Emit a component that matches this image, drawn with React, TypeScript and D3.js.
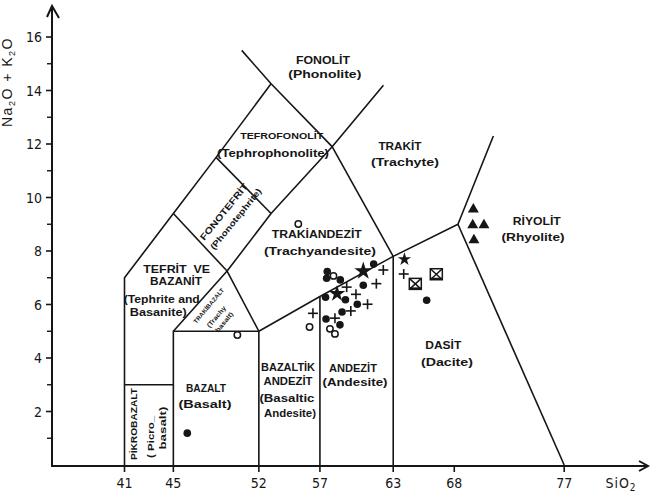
import React from 'react';
import * as d3 from 'd3';

// ---- axis ticks ----
const xTicks = [41, 45, 52, 57, 63, 68, 77];
const yTicks = [2, 4, 6, 8, 10, 12, 14, 16];
const yMinorTicks = [1, 3, 5, 7, 9, 11, 13, 15];

// ---- field boundaries (SiO2, Na2O+K2O) ----
const leftEnvelope: [number, number][] = [[41, 0], [41, 7], [45, 9.4], [48.5, 11.5], [53, 14.25]];
const phonoliteLine: [number, number][] = [[50.6, 15.5], [53, 14.25], [58, 11.9], [63, 7.8]];
const trachyteLine: [number, number][] = [[49.4, 7.25], [53, 9.4], [58, 11.9], [62.2, 14.2]];
const phonotephriteLow: [number, number][] = [[45, 9.4], [49.4, 7.25]];
const phonotephriteHigh: [number, number][] = [[48.5, 11.5], [53, 9.4]];
const picroTop: [number, number][] = [[41, 3], [45, 3]];
const basaltBox: [number, number][] = [[45, 0], [45, 5], [52, 5]];
const trachybasaltTri: [number, number][] = [[45, 5], [49.4, 7.25], [52, 5]];
const lowerTrachyLine: [number, number][] = [[52, 0], [52, 5], [57, 6.3], [63, 7.8], [68.3, 9.0], [71.2, 12.3]];
const andesiteLeft: [number, number][] = [[57, 0], [57, 6.3]];
const daciteLeft: [number, number][] = [[63, 0], [63, 7.8]];
const daciteRight: [number, number][] = [[68.3, 9.0], [77, 0]];
const boundaries = [leftEnvelope, phonoliteLine, trachyteLine, phonotephriteLow, phonotephriteHigh, picroTop, basaltBox, trachybasaltTri, lowerTrachyLine, andesiteLeft, daciteLeft, daciteRight];

// ---- samples ----
const filledCircles: [number, number][] = [
  [57.6, 7.23], [57.55, 6.98], [58.67, 6.92], [61.4, 7.51], [60.55, 6.72], [59.09, 6.18],
  [60.06, 6.01], [57.46, 6.27], [58.81, 5.72], [57.5, 5.46], [58.64, 5.24], [65.74, 6.16], [46.14, 1.19],
];
const openCircles: [number, number][] = [
  [58.11, 7.07], [56.15, 5.16], [57.82, 5.09], [58.23, 4.9], [55.23, 9.01], [50.24, 4.86],
];
const plusses: [number, number][] = [
  [62.19, 7.29], [61.62, 6.78], [59.19, 6.65], [59.95, 6.38], [60.9, 6.01], [59.53, 5.76],
  [58.23, 5.49], [56.43, 5.67], [63.86, 7.14],
];
const stars: [number, number][] = [[60.55, 7.25], [58.4, 6.4], [63.92, 7.69]];
const starSizes = [100, 85, 55];
const boxedCrosses: [number, number][] = [[66.53, 7.15], [64.81, 6.79]];
const triangles: [number, number][] = [[69.56, 9.56], [69.51, 8.97], [70.43, 8.97], [69.61, 8.41]];

// ---- field names (anchor in SiO2 / alkali units) ----
type Lab = { t: string; sx: number; sy: number; fs: number; w: number; rot?: number };
const fieldLabels: Lab[] = [
  { t: 'FONOLİT', sx: 57.25, sy: 15.14, fs: 10, w: 54 },
  { t: '(Phonolite)', sx: 57.4, sy: 14.62, fs: 10.5, w: 73 },
  { t: 'TRAKİT', sx: 63.55, sy: 11.89, fs: 10, w: 43 },
  { t: '(Trachyte)', sx: 63.96, sy: 11.33, fs: 10.5, w: 68 },
  { t: 'TEFROFONOLİT', sx: 53.87, sy: 12.3, fs: 9.5, w: 83 },
  { t: '(Tephrophonolite)', sx: 53.16, sy: 11.63, fs: 10, w: 112 },
  { t: 'FONOTEFRİT', sx: 49.15, sy: 9.46, fs: 9, w: 70, rot: -51 },
  { t: '(Phonotephrite)', sx: 50.11, sy: 9.2, fs: 8.5, w: 76, rot: -51 },
  { t: 'TRAKİANDEZİT', sx: 56.74, sy: 8.64, fs: 11, w: 90 },
  { t: '(Trachyandesite)', sx: 57.0, sy: 8.01, fs: 11, w: 112 },
  { t: 'TEFRİT  VE', sx: 45.27, sy: 7.32, fs: 10, w: 67 },
  { t: 'BAZANİT', sx: 45.22, sy: 6.85, fs: 10, w: 52 },
  { t: '(Tephrite and', sx: 44.05, sy: 6.19, fs: 10, w: 76 },
  { t: 'Basanite)', sx: 43.77, sy: 5.69, fs: 10, w: 57 },
  { t: 'TRAKİBAZALT', sx: 47.9, sy: 5.95, fs: 6, w: 44, rot: -50 },
  { t: '(Trachy', sx: 48.5, sy: 5.55, fs: 6.5, w: 26, rot: -50 },
  { t: 'basalt)', sx: 49.15, sy: 5.35, fs: 6.5, w: 24, rot: -50 },
  { t: 'BAZALT', sx: 47.67, sy: 2.87, fs: 10, w: 40 },
  { t: '(Basalt)', sx: 47.59, sy: 2.28, fs: 10.5, w: 53 },
  { t: 'PİKROBAZALT', sx: 41.72, sy: 1.53, fs: 9.5, w: 72, rot: -90 },
  { t: '( Picro_', sx: 43.09, sy: 1.05, fs: 9.5, w: 42, rot: -90 },
  { t: 'basalt)', sx: 44.15, sy: 1.38, fs: 9.5, w: 43, rot: -90 },
  { t: 'BAZALTİK', sx: 54.39, sy: 3.66, fs: 10, w: 54 },
  { t: 'ANDEZİT', sx: 54.39, sy: 3.14, fs: 10, w: 49 },
  { t: '(Basaltic', sx: 54.3, sy: 2.47, fs: 10, w: 55 },
  { t: 'Andesite)', sx: 54.55, sy: 1.94, fs: 10, w: 52 },
  { t: 'ANDEZİT', sx: 59.7, sy: 3.64, fs: 10.5, w: 48 },
  { t: '(Andesite)', sx: 59.87, sy: 3.1, fs: 10.5, w: 65 },
  { t: 'DASİT', sx: 67.1, sy: 4.49, fs: 10.5, w: 36 },
  { t: '(Dacite)', sx: 67.4, sy: 3.85, fs: 10.5, w: 52 },
  { t: 'RİYOLİT', sx: 74.75, sy: 9.1, fs: 10, w: 48 },
  { t: '(Rhyolite)', sx: 74.45, sy: 8.53, fs: 10.5, w: 63 },
];

const INK = '#161616';
const FONT = "'Liberation Sans', Arial, sans-serif";

export default function App() {
  const W = 652, H = 493;
  const x = d3.scaleLinear().domain([41, 77]).range([124.5, 564.2]);
  const y = d3.scaleLinear().domain([0, 16]).range([465, 37]);
  const line = d3.line<[number, number]>().x(d => x(d[0])).y(d => y(d[1]));
  const axX = 52;
  const axY = y(0);
  const starPath = (s: number) => d3.symbol().type(d3.symbolStar).size(s)() as string;
  const triPath = d3.symbol().type(d3.symbolTriangle).size(52)() as string;

  return (
    <svg width={W} height={H} style={{ position: 'absolute', left: 0, top: 0, background: '#fff' }}
      fontFamily={FONT}>
      <rect width={W} height={H} fill="#fff" />
      {/* axes */}
      <line x1={axX} y1={axY + 2} x2={axX} y2={6} stroke={INK} strokeWidth={2} />
      <polyline points={`${axX - 5},${17} ${axX},${6} ${axX + 7},${18}`} fill="none" stroke={INK} strokeWidth={2} />
      <line x1={axX} y1={axY + 1} x2={648} y2={axY + 1} stroke={INK} strokeWidth={2} />
      <polyline points={`${639},${axY - 4} ${648},${axY + 1} ${639},${axY + 6}`} fill="none" stroke={INK} strokeWidth={2} />
      {xTicks.map(t => (
        <g key={'xt' + t}>
          <line x1={x(t)} x2={x(t)} y1={axY + 1} y2={axY + 7} stroke={INK} strokeWidth={1.6} />
          <text x={x(t)} y={488} textAnchor="middle" fontSize={14} fill={INK}
            fontFamily="'Liberation Sans Narrow', 'DejaVu Sans Condensed', sans-serif">{t}</text>
        </g>
      ))}
      <text x={621} y={488} textAnchor="middle" fontSize={14} fill={INK}
        fontFamily="'Liberation Sans Narrow', 'DejaVu Sans Condensed', sans-serif" letterSpacing={1}>
        SiO<tspan fontSize={10} dy={3}>2</tspan>
      </text>
      {yTicks.map(t => (
        <g key={'yt' + t}>
          <line x1={axX - 6} x2={axX} y1={y(t)} y2={y(t)} stroke={INK} strokeWidth={1.6} />
          <text x={42} y={y(t) + 5} textAnchor="end" fontSize={14} fill={INK}
            fontFamily="'Liberation Sans Narrow', 'DejaVu Sans Condensed', sans-serif">{t}</text>
        </g>
      ))}
      {yMinorTicks.map(t => (
        <line key={'ym' + t} x1={axX - 5} x2={axX} y1={y(t)} y2={y(t)} stroke={INK} strokeWidth={1.4} />
      ))}
      <text transform={`translate(12,82) rotate(-90)`} textAnchor="middle" fontSize={14} fill={INK}
        letterSpacing={1.5}>
        Na<tspan fontSize={9} dy={3}>2</tspan><tspan dy={-3}>O + K</tspan><tspan fontSize={9} dy={3}>2</tspan><tspan dy={-3}>O</tspan>
      </text>

      {/* field boundaries */}
      {boundaries.map((b, i) => (
        <path key={'b' + i} d={line(b) as string} fill="none" stroke={INK} strokeWidth={1.6} strokeLinejoin="round" />
      ))}

      {/* field labels */}
      {fieldLabels.map((l, i) => (
        <text key={'l' + i} transform={`translate(${x(l.sx)},${y(l.sy)}) rotate(${l.rot || 0})`}
          textAnchor="middle" dominantBaseline="central" fontSize={l.fs} fontWeight="bold" fill={INK}
          textLength={l.w} lengthAdjust="spacingAndGlyphs" style={{ whiteSpace: 'pre' }}>
          {l.t}
        </text>
      ))}

      {/* samples */}
      {filledCircles.map((p, i) => (
        <circle key={'fc' + i} cx={x(p[0])} cy={y(p[1])} r={3.8} fill={INK} />
      ))}
      {openCircles.map((p, i) => (
        <circle key={'oc' + i} cx={x(p[0])} cy={y(p[1])} r={3.2} fill="#fff" stroke={INK} strokeWidth={1.5} />
      ))}
      {plusses.map((p, i) => (
        <g key={'pl' + i} stroke={INK} strokeWidth={1.6}>
          <line x1={x(p[0]) - 5} x2={x(p[0]) + 5} y1={y(p[1])} y2={y(p[1])} />
          <line x1={x(p[0])} x2={x(p[0])} y1={y(p[1]) - 5} y2={y(p[1]) + 5} />
        </g>
      ))}
      {stars.map((p, i) => (
        <path key={'st' + i} d={starPath(starSizes[i])} transform={`translate(${x(p[0])},${y(p[1])})`} fill={INK} />
      ))}
      {boxedCrosses.map((p, i) => {
        const cx = x(p[0]), cy = y(p[1]);
        return (
          <g key={'bx' + i} stroke={INK} strokeWidth={1.5} fill="none">
            <rect x={cx - 6} y={cy - 5} width={12} height={11} fill="#fff" />
            <line x1={cx - 6} y1={cy - 5} x2={cx + 6} y2={cy + 6} />
            <line x1={cx + 6} y1={cy - 5} x2={cx - 6} y2={cy + 6} />
            <line x1={cx - 6} y1={cy + 5} x2={cx + 6} y2={cy + 5} strokeWidth={2} />
          </g>
        );
      })}
      {triangles.map((p, i) => (
        <path key={'tr' + i} d={triPath} transform={`translate(${x(p[0])},${y(p[1])})`} fill={INK} />
      ))}
    </svg>
  );
}
